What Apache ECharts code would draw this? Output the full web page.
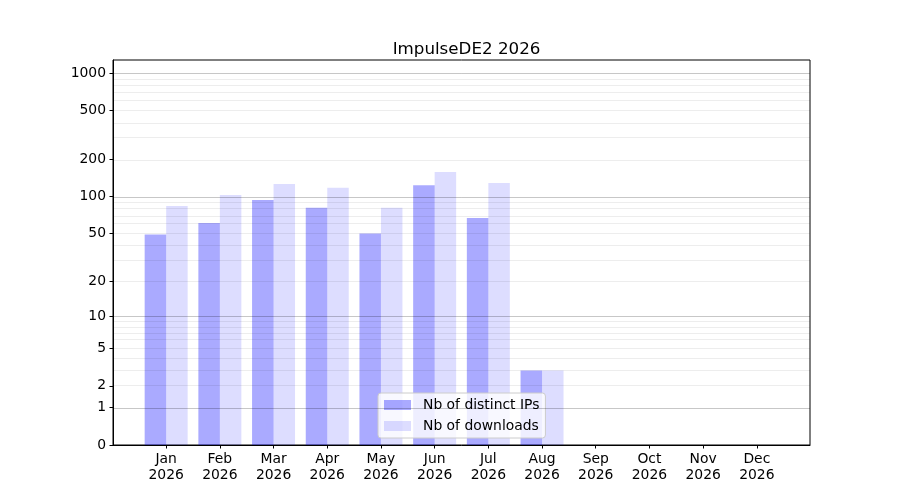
<!DOCTYPE html>
<html>
<head>
    <meta charset="utf-8">
    <title>ImpulseDE2 2026</title>
    <script src="https://cdn.jsdelivr.net/npm/echarts@6/dist/echarts.min.js"></script>
    <style>
        html, body { margin: 0; padding: 0; background: #fff; }
        #main { width: 900px; height: 500px; }
    </style>
</head>
<body>
    <div id="main"></div>
    <script type="text/javascript">
        // data
        var months = ['Jan', 'Feb', 'Mar', 'Apr', 'May', 'Jun', 'Jul', 'Aug', 'Sep', 'Oct', 'Nov', 'Dec'];
        var year = '2026';
        var distinctIPs = [49, 61, 94, 81, 50, 124, 67, 3, 0, 0, 0, 0];
        var downloads = [84, 103, 127, 118, 81, 159, 129, 3, 0, 0, 0, 0];
        var yTicks = [0, 1, 2, 5, 10, 20, 50, 100, 200, 500, 1000];
        var majorGrid = [1, 10, 100, 1000];

        // y axis is log10(v + 1)
        function tr(v) { return Math.log10(v + 1); }
        function untr(t) { return Math.round(Math.pow(10, t) - 1); }

        var minorGrid = [];
        [1, 10, 100].forEach(function (d) {
            for (var k = 2; k <= 9; k++) minorGrid.push(k * d);
        });

        var font = 'DejaVu Sans';
        var monthIdx = months.map(function (m, i) { return i; });

        var gridLines = minorGrid.map(function (v) {
            return { yAxis: tr(v), lineStyle: { color: 'rgba(0,0,0,0.07)', width: 1, type: 'solid' } };
        }).concat(majorGrid.map(function (v) {
            return { yAxis: tr(v), lineStyle: { color: 'rgba(0,0,0,0.22)', width: 1, type: 'solid' } };
        }));

        var myChart = echarts.init(document.getElementById('main'));
        var option = {
            animation: false,
            backgroundColor: '#fff',
            title: {
                text: 'ImpulseDE2 2026',
                left: 461.5,
                textAlign: 'center',
                top: 36,
                textStyle: { fontFamily: font, fontSize: 16.7, fontWeight: 'normal', color: '#000' }
            },
            legend: {
                orient: 'vertical',
                left: 378,
                top: 393,
                padding: [5, 6, 5, 6],
                itemGap: 7,
                itemWidth: 27,
                itemHeight: 10,
                borderColor: '#cccccc',
                borderWidth: 1,
                borderRadius: 3,
                backgroundColor: 'rgba(255,255,255,0.8)',
                icon: 'rect',
                textStyle: { fontFamily: font, fontSize: 13.9, color: '#000', padding: [0, 0, 0, 7] },
                data: ['Nb of distinct IPs', 'Nb of downloads']
            },
            grid: {
                left: 113, right: 90, top: 60, bottom: 55,
                show: true, borderColor: '#000', borderWidth: 1
            },
            xAxis: {
                type: 'value',
                min: -0.99,
                max: 11.99,
                splitLine: { show: false },
                axisLine: { onZero: false, lineStyle: { color: '#000', width: 1 } },
                axisTick: { customValues: monthIdx, length: 3.5, lineStyle: { color: '#000' } },
                axisLabel: {
                    customValues: monthIdx,
                    formatter: function (v) { return months[Math.round(v)] + '\n' + year; },
                    fontFamily: font, fontSize: 13.9, color: '#000',
                    lineHeight: 16, margin: 6
                }
            },
            yAxis: {
                type: 'value',
                min: 0,
                max: 3.107,
                splitLine: { show: false },
                axisLine: { show: true, onZero: false, lineStyle: { color: '#000', width: 1 } },
                axisTick: { show: true, customValues: yTicks.map(tr), length: 3.5, lineStyle: { color: '#000' } },
                axisLabel: {
                    customValues: yTicks.map(tr),
                    formatter: function (t) { return String(untr(t)); },
                    fontFamily: font, fontSize: 13.9, color: '#000', margin: 7
                }
            },
            series: [
                {
                    name: 'grid',
                    type: 'line',
                    data: [],
                    silent: true,
                    z: 1,
                    markLine: {
                        silent: true,
                        symbol: 'none',
                        label: { show: false },
                        data: gridLines
                    }
                },
                {
                    name: 'Nb of distinct IPs',
                    type: 'bar',
                    z: 2,
                    barWidth: 21.5,
                    barGap: '0%',
                    itemStyle: { color: 'rgba(0,0,255,0.333)' },
                    data: distinctIPs.map(function (v, i) { return [i, tr(v)]; })
                },
                {
                    name: 'Nb of downloads',
                    type: 'bar',
                    z: 2,
                    barWidth: 21.5,
                    barGap: '0%',
                    itemStyle: { color: 'rgba(0,0,255,0.135)' },
                    data: downloads.map(function (v, i) { return [i, tr(v)]; })
                }
            ]
        };
        myChart.setOption(option);
    </script>
</body>
</html>
